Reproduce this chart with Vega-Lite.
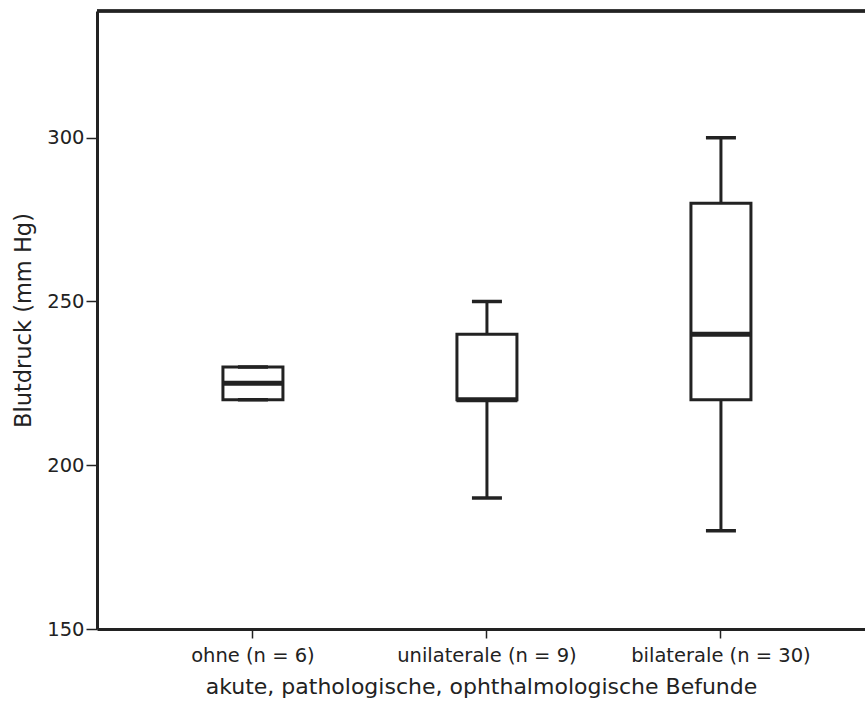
{
  "$schema": "https://vega.github.io/schema/vega-lite/v6.json",
  "width": 768,
  "height": 618,
  "autosize": "none",
  "padding": {"left": 97, "top": 11, "right": 0, "bottom": 73},
  "background": "white",
  "config": {
    "view": {"stroke": null},
    "font": "DejaVu Sans",
    "axis": {"grid": false, "domainColor": "#222222", "domainWidth": 3, "tickColor": "#222222", "tickWidth": 1.5, "labelColor": "#222222", "titleColor": "#222222", "labelFont": "DejaVu Sans", "titleFont": "DejaVu Sans", "labelFontWeight": "normal", "titleFontWeight": "normal"}
  },
  "data": {
    "values": [
      {"group": "ohne (n = 6)", "lo": 220, "q1": 220, "median": 225, "q3": 230, "hi": 230},
      {"group": "unilaterale (n = 9)", "lo": 190, "q1": 220, "median": 220, "q3": 240, "hi": 250},
      {"group": "bilaterale (n = 30)", "lo": 180, "q1": 220, "median": 240, "q3": 280, "hi": 300}
    ]
  },
  "layer": [
    {
      "mark": {"type": "rule", "strokeWidth": 3, "color": "#222222"},
      "encoding": {
        "x": {
          "field": "group",
          "type": "nominal",
          "sort": null,
          "scale": {"paddingInner": 0, "paddingOuter": 0.141, "align": 0.59},
          "axis": {"title": "akute, pathologische, ophthalmologische Befunde", "labelAngle": 0, "tickSize": 9, "labelPadding": 8, "labelFontSize": 19.5, "titleFontSize": 22, "titlePadding": 12}
        },
        "y": {
          "field": "lo",
          "type": "quantitative",
          "scale": {"domain": [150, 338.7], "nice": false, "zero": false},
          "axis": {"title": "Blutdruck (mm Hg)", "values": [150, 200, 250, 300], "tickSize": 11, "labelPadding": 2, "labelFontSize": 19.5, "titleFontSize": 22.5, "titlePadding": 11}
        },
        "y2": {"field": "hi"}
      }
    },
    {
      "mark": {"type": "bar", "width": 60, "fill": "white", "stroke": "#222222", "strokeWidth": 3},
      "encoding": {
        "x": {"field": "group", "type": "nominal", "sort": null},
        "y": {"field": "q1", "type": "quantitative"},
        "y2": {"field": "q3"}
      }
    },
    {
      "mark": {"type": "tick", "size": 61, "thickness": 5, "color": "#222222", "opacity": 1},
      "encoding": {
        "x": {"field": "group", "type": "nominal", "sort": null},
        "y": {"field": "median", "type": "quantitative"}
      }
    },
    {
      "mark": {"type": "tick", "size": 30, "thickness": 3.5, "color": "#222222", "opacity": 1},
      "encoding": {
        "x": {"field": "group", "type": "nominal", "sort": null},
        "y": {"field": "lo", "type": "quantitative"}
      }
    },
    {
      "mark": {"type": "tick", "size": 30, "thickness": 3.5, "color": "#222222", "opacity": 1},
      "encoding": {
        "x": {"field": "group", "type": "nominal", "sort": null},
        "y": {"field": "hi", "type": "quantitative"}
      }
    },
    {
      "mark": {"type": "rule", "strokeWidth": 3, "color": "#222222"},
      "encoding": {"y": {"datum": 338.7, "type": "quantitative"}}
    }
  ]
}
